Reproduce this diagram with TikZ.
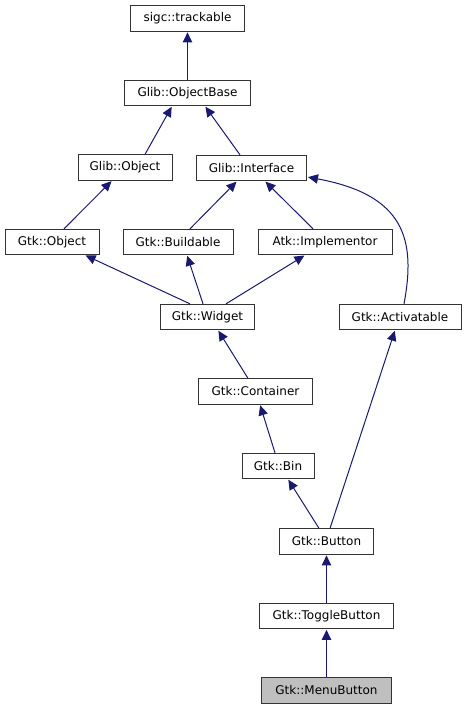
\documentclass[tikz,border=0pt]{standalone}
\usepackage{fontspec}
\setmainfont{DejaVu Sans}
\usetikzlibrary{arrows.meta,calc}

\definecolor{edgeblue}{HTML}{191970}
\tikzset{every picture/.style={line width=0.75pt}}
\tikzset{
  cls/.style={draw=black!80,fill=white,inner sep=0pt,minimum height=19pt,font=\fontsize{9}{10}\selectfont},
  inh/.style={draw=edgeblue,-{Triangle[length=7.5pt,width=7pt]},shorten >=0.5pt},
}

\begin{document}
\begin{tikzpicture}[x=0.75pt,y=0.75pt,yscale=-1,xscale=1]
\useasboundingbox (0,0) rectangle (467,709);

%Shape: Class boxes
\node[cls,minimum width=86pt] (trackable) at (187.5,18.5) {sigc::trackable};
\node[cls,minimum width=95pt] (objbase) at (187.5,93) {Glib::ObjectBase};
\node[cls,minimum width=70.5pt] (globj) at (125,167.5) {Glib::Object};
\node[cls,minimum width=83pt] (glint) at (251.5,168) {Glib::Interface};
\node[cls,minimum width=70.5pt] (gtkobj) at (52,242) {Gtk::Object};
\node[cls,minimum width=82.5pt] (buildable) at (178,242) {Gtk::Buildable};
\node[cls,minimum width=100.5pt] (implementor) at (325,242) {Atk::Implementor};
\node[cls,minimum width=71pt] (widget) at (207.5,317) {Gtk::Widget};
\node[cls,minimum width=91.5pt] (activatable) at (400,317) {Gtk::Activatable};
\node[cls,minimum width=86pt] (container) at (255.5,391.5) {Gtk::Container};
\node[cls,minimum width=54pt] (bin) at (278,466) {Gtk::Bin};
\node[cls,minimum width=71pt] (button) at (326.5,541.5) {Gtk::Button};
\node[cls,minimum width=101pt] (toggle) at (326.5,616) {Gtk::ToggleButton};
\node[cls,minimum width=98pt,fill=black!25] (menubutton) at (326.5,690.5) {Gtk::MenuButton};

%Straight Lines: inheritance
\draw[inh] (objbase.north) -- (trackable.south);
\draw[inh] ($(globj.north)+(20,0)$) -- ($(objbase.south)+(-15.5,0)$);
\draw[inh] ($(glint.north)+(-11.5,0)$) -- ($(objbase.south)+(17.5,0)$);
\draw[inh] ($(gtkobj.north)+(12,0)$) -- ($(globj.south)+(-13,0)$);
\draw[inh] ($(buildable.north)+(12,0)$) -- ($(glint.south)+(-14.5,0)$);
\draw[inh] ($(implementor.north)+(-12,0)$) -- ($(glint.south)+(13.5,0)$);
\draw[inh] ($(widget.north)+(-17.5,0)$) -- ($(gtkobj.south)+(33,0)$);
\draw[inh] ($(widget.north)+(-4.5,0)$) -- ($(buildable.south)+(9,0)$);
\draw[inh] ($(widget.north)+(18.5,0)$) -- ($(implementor.south)+(-20,0)$);
\draw[inh] ($(container.north)+(-7.5,0)$) -- ($(widget.south)+(10.5,0)$);
\draw[inh] ($(bin.north)+(-3,0)$) -- ($(container.south)+(4.5,0)$);
\draw[inh] ($(button.north)+(-7.5,0)$) -- ($(bin.south)+(10,0)$);
\draw[inh] ($(button.north)+(3.5,0)$) -- ($(activatable.south)+(-5,0)$);
\draw[inh] (toggle.north) -- (button.south);
\draw[inh] (menubutton.north) -- (toggle.south);
%Curve Lines: Activatable to Interface
\draw[inh] ($(activatable.north)+(4,0)$) .. controls (416,240) and (405,195) .. ($(glint.east)+(0,9)$);

\end{tikzpicture}
\end{document}
